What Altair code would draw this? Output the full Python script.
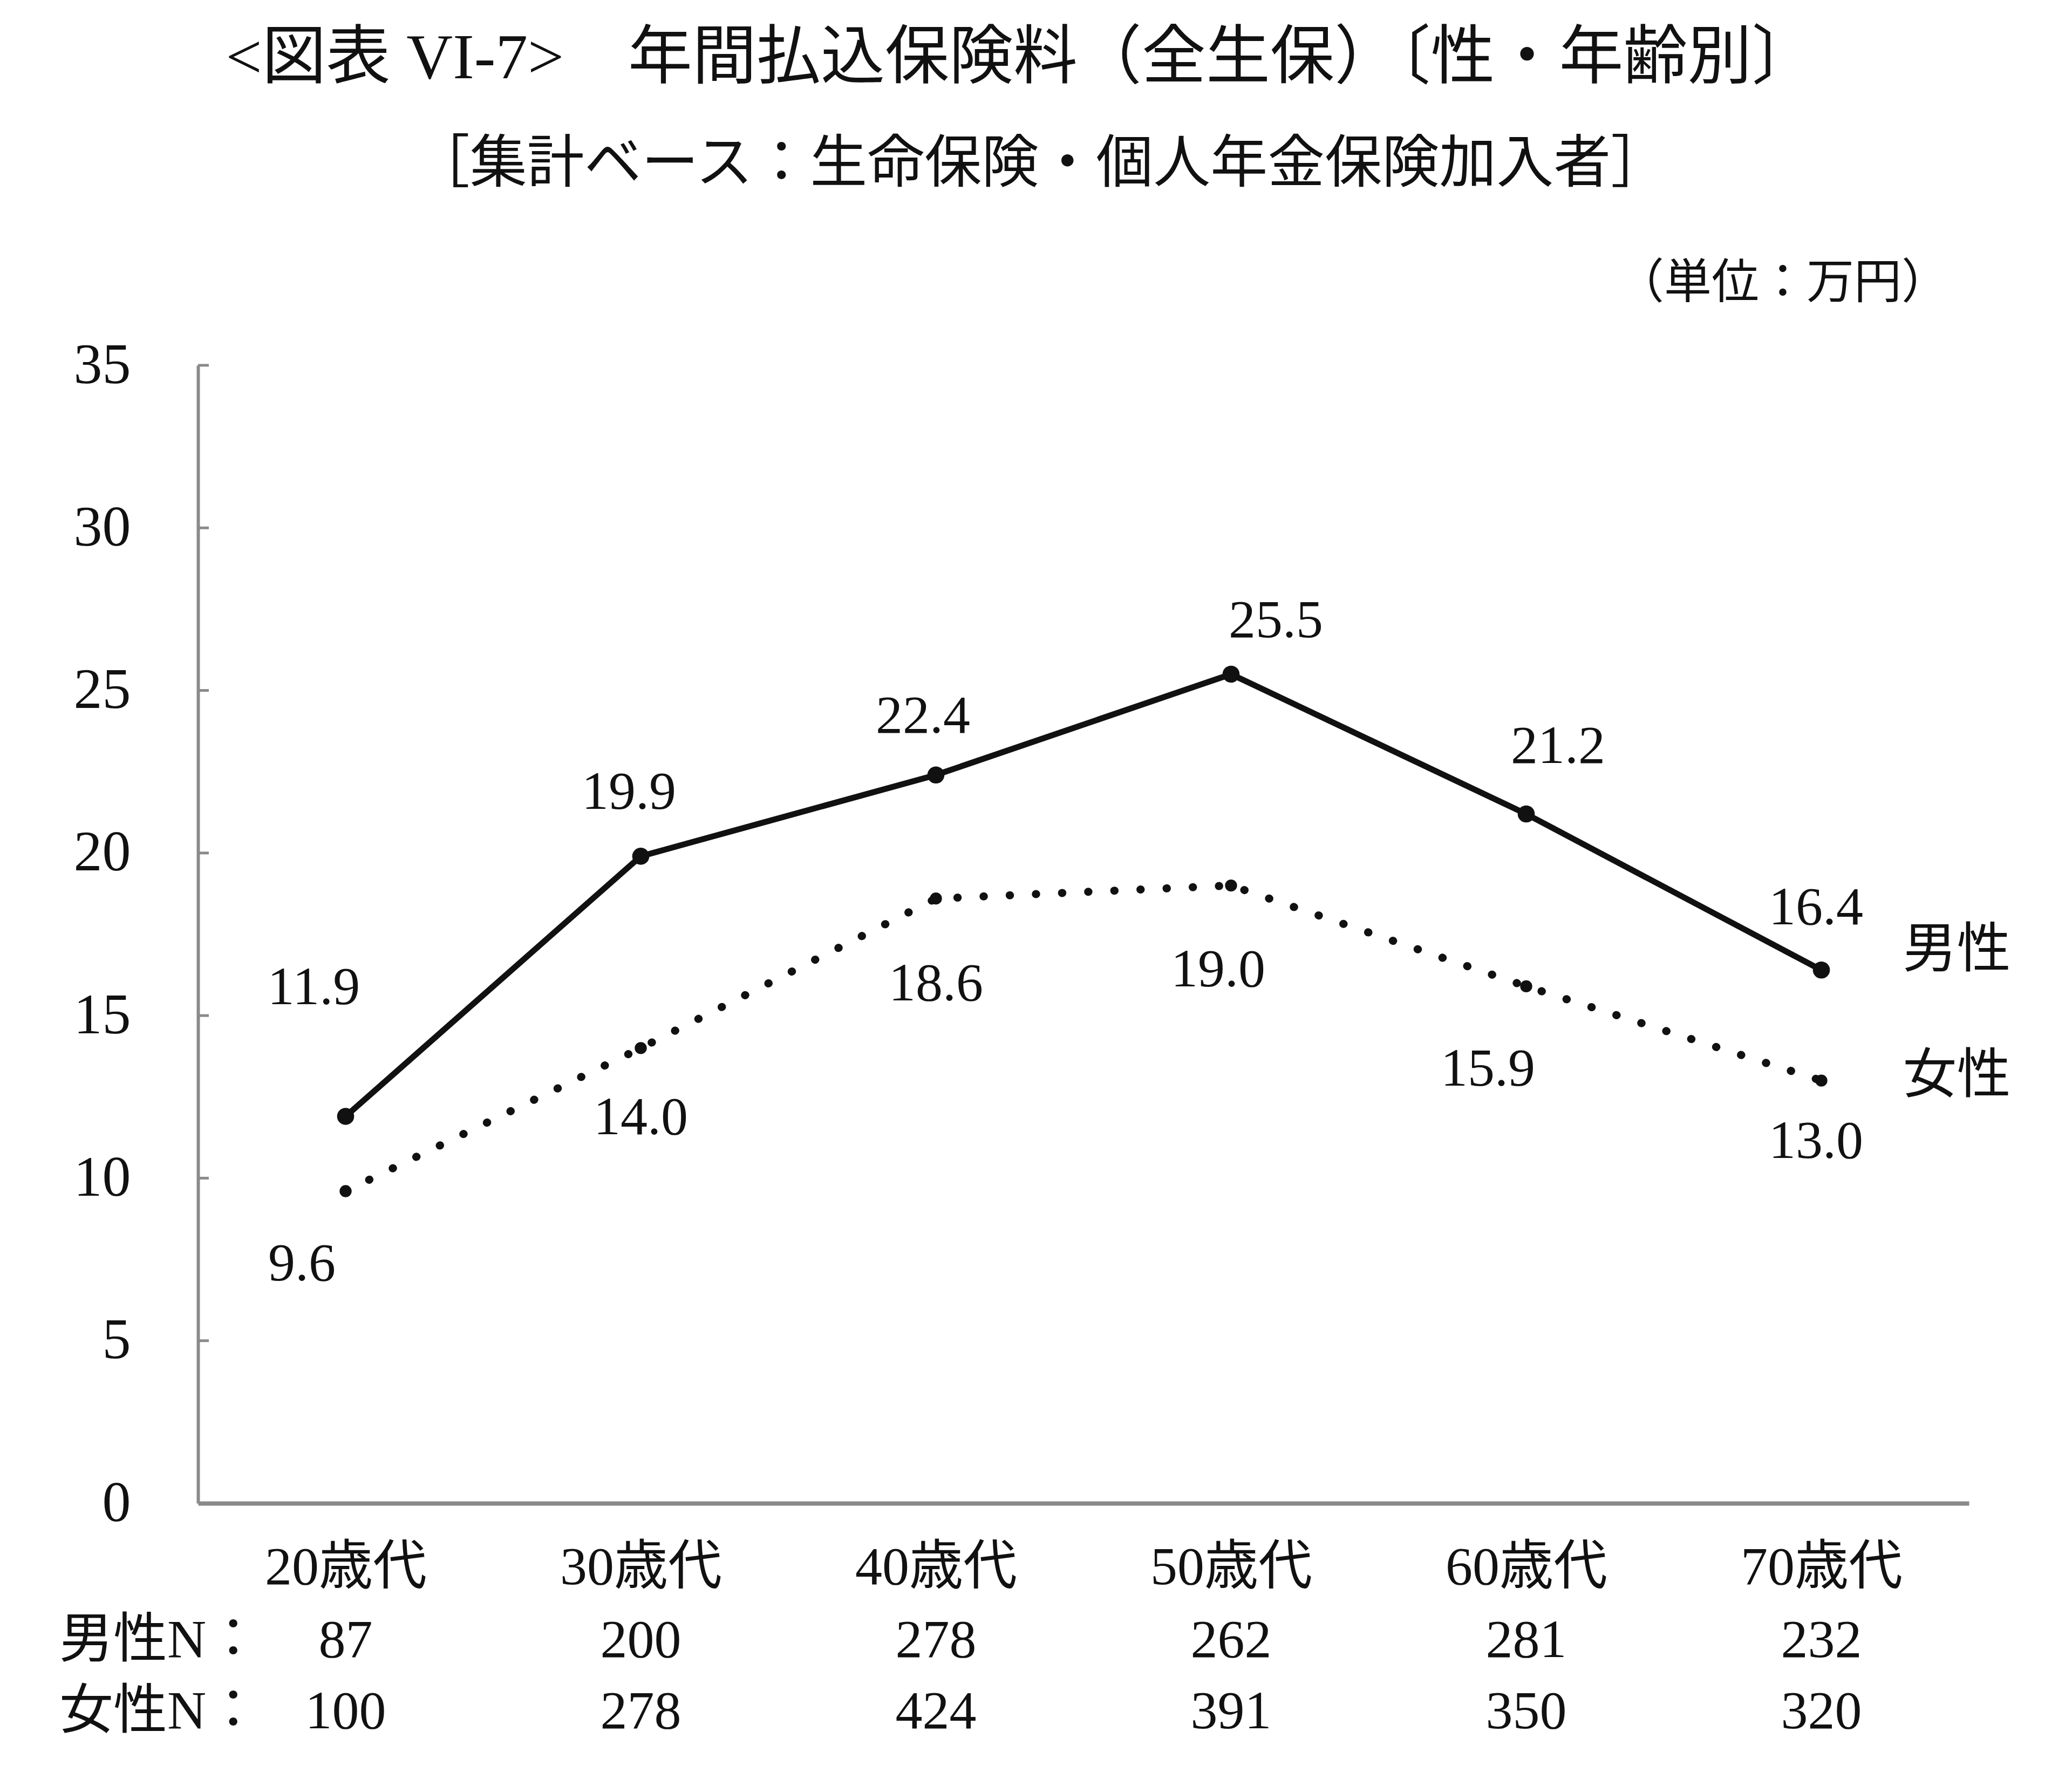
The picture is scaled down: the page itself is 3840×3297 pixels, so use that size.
import altair as alt
import pandas as pd

# ---- data ----
ages = ["20歳代", "30歳代", "40歳代", "50歳代", "60歳代", "70歳代"]
male = [11.9, 19.9, 22.4, 25.5, 21.2, 16.4]
female = [9.6, 14.0, 18.6, 19.0, 15.9, 13.0]
male_n = [87, 200, 278, 262, 281, 232]
female_n = [100, 278, 424, 391, 350, 320]
y_ticks = [0, 5, 10, 15, 20, 25, 30, 35]

title_text = "<図表 VI-7>　年間払込保険料（全生保）〔性・年齢別〕"
subtitle_text = "［集計ベース：生命保険・個人年金保険加入者］"
unit_text = "（単位：万円）"
male_name = "男性"
female_name = "女性"
male_n_label = "男性N："
female_n_label = "女性N："

# ---- layout (label nudges, pixels) ----
male_nudge = [(-59, -238), (-22, -118), (-24, -108), (83, -98), (59, -125), (-10, -115)]
female_nudge = [(-81, 135), (0, 130), (0, 159), (-24, 157), (-71, 154), (-10, 113)]

W, H = 3282, 2109
NUM_FONT = "Liberation Serif, Noto Sans CJK JP"
JP_FONT = "Noto Sans CJK JP"
INK = "#111111"
AXIS_GRAY = "#8a8a8a"

df = pd.DataFrame({
    "age": ages * 2,
    "value": male + female,
    "series": [male_name] * 6 + [female_name] * 6,
    "label": [f"{v:.1f}" for v in male + female],
})
ndf = pd.DataFrame({"age": ages, "mn": [str(v) for v in male_n], "fn": [str(v) for v in female_n]})

x_axis = alt.Axis(title=None, labelAngle=0, ticks=False, labelPadding=70, labelLimit=2000,
                  labelFont=NUM_FONT, labelFontSize=100, labelColor=INK,
                  domainColor=AXIS_GRAY, domainWidth=8, grid=False)
y_axis = alt.Axis(title=None, values=y_ticks, ticks=False, labelPadding=125,
                  labelFont=NUM_FONT, labelFontSize=106, labelColor=INK,
                  domainColor=AXIS_GRAY, domainWidth=6, grid=False, format="d")
x_scale = alt.Scale(type="point", padding=0.5)
y_scale = alt.Scale(domain=[0, 35], nice=False)


def X(field="age"):
    return alt.X(f"{field}:O", sort=ages, scale=x_scale, axis=x_axis)


def Y(field="value"):
    return alt.Y(f"{field}:Q", scale=y_scale, axis=y_axis)


base = alt.Chart(df)

male_line = base.transform_filter(alt.datum.series == male_name).mark_line(
    color=INK, strokeWidth=11).encode(x=X(), y=Y())
male_pts = base.transform_filter(alt.datum.series == male_name).mark_point(
    filled=True, color=INK, size=1000, opacity=1).encode(x=X(), y=Y())
female_line = base.transform_filter(alt.datum.series == female_name).mark_line(
    color=INK, strokeWidth=15, strokeDash=[0.5, 48], strokeCap="round").encode(x=X(), y=Y())
female_pts = base.transform_filter(alt.datum.series == female_name).mark_point(
    filled=True, color=INK, size=500, opacity=1).encode(x=X(), y=Y())

layers = [male_line, female_line, male_pts, female_pts]

# value labels
for series, nudges in ((male_name, male_nudge), (female_name, female_nudge)):
    for age, (dx, dy) in zip(ages, nudges):
        layers.append(
            base.transform_filter((alt.datum.series == series) & (alt.datum.age == age))
            .mark_text(font=NUM_FONT, fontSize=100, color=INK, dx=dx, dy=dy,
                       align="center", baseline="middle")
            .encode(x=X(), y=Y(), text="label:N")
        )

# series names at the right end
for series, dy in ((male_name, -36), (female_name, -8)):
    layers.append(
        base.transform_filter((alt.datum.series == series) & (alt.datum.age == ages[-1]))
        .mark_text(font=JP_FONT, fontSize=100, color=INK, dx=151, dy=dy,
                   align="left", baseline="middle")
        .encode(x=X(), y=Y(), text="series:N")
    )

# inward y ticks
tick_df = pd.DataFrame({"value": y_ticks[1:]})
layers.append(
    alt.Chart(tick_df).mark_rule(color=AXIS_GRAY, strokeWidth=5).encode(
        y=Y(), x=alt.value(0), x2=alt.value(20))
)

# N rows
n_base = alt.Chart(ndf)
layers.append(n_base.mark_text(font=NUM_FONT, fontSize=100, color=INK, baseline="middle")
              .encode(x=X(), y=alt.value(2364), text="mn:N"))
layers.append(n_base.mark_text(font=NUM_FONT, fontSize=100, color=INK, baseline="middle")
              .encode(x=X(), y=alt.value(2496), text="fn:N"))


def label_text(txt, x, y, size, align="center"):
    return alt.Chart(pd.DataFrame({"t": [txt]})).mark_text(
        font=NUM_FONT, fontSize=size, color=INK, align=align, baseline="middle"
    ).encode(x=alt.value(x), y=alt.value(y), text="t:N")


layers.append(label_text(male_n_label, -257, 2364, 100, "left"))
layers.append(label_text(female_n_label, -257, 2496, 100, "left"))
layers.append(label_text(title_text, 1525, -568, 119))
layers.append(label_text(subtitle_text, 1561, -372, 106))
layers.append(label_text(unit_text, 2937, -151, 88))

chart = alt.layer(*layers).properties(
    width=W, height=H,
    padding={"left": 102, "top": 42, "right": 10, "bottom": 10},
    background="white",
).configure_view(stroke=None)

chart.save("out.html", embed_options={"renderer": "svg", "actions": False})
